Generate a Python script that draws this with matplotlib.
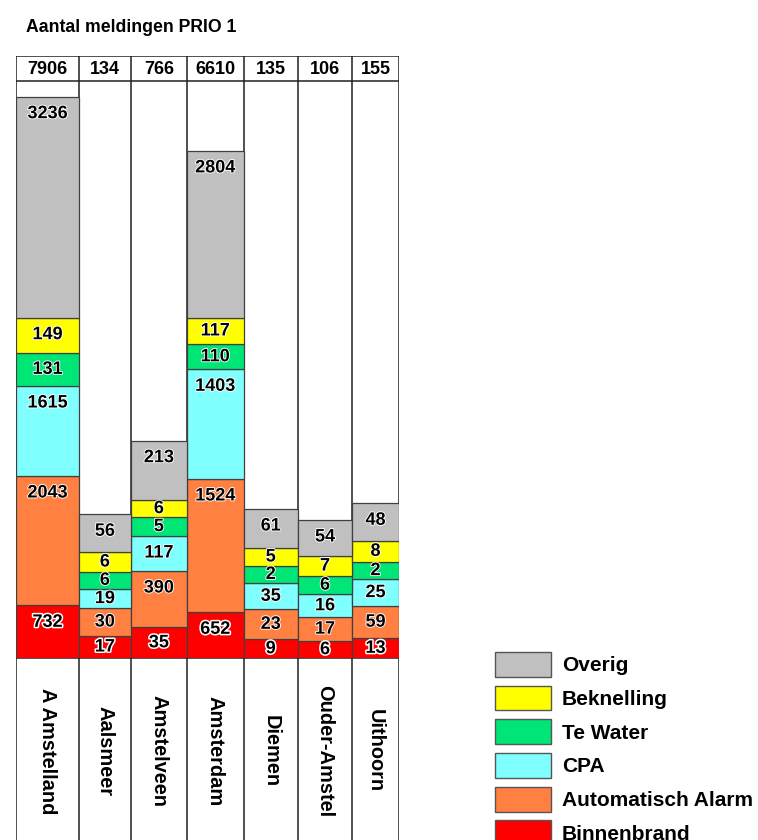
import numpy as np
import matplotlib
matplotlib.use("Agg")
import matplotlib.pyplot as plt
import matplotlib.patheffects as pe
from matplotlib.patches import Patch

plt.rcParams['font.family'] = ['Liberation Sans', 'DejaVu Sans']

# data
regions = ["A Amstelland", "Aalsmeer", "Amstelveen", "Amsterdam",
           "Diemen", "Ouder-Amstel", "Uithoorn"]
series = ["Binnenbrand", "Automatisch Alarm", "CPA", "Te Water", "Beknelling", "Overig"]
colors = ["#FF0000", "#FF8040", "#80FFFF", "#00E676", "#FFFF00", "#C0C0C0"]

binnenbrand = [732, 17, 35, 652, 9, 6, 13]
auto_alarm = [2043, 30, 390, 1524, 23, 17, 59]
cpa = [1615, 19, 117, 1403, 35, 16, 25]
te_water = [131, 6, 5, 110, 2, 6, 2]
beknelling = [149, 6, 6, 117, 5, 7, 8]
overig = [3236, 56, 213, 2804, 61, 54, 48]

# drawn segment heights (the chart is not to scale)
h_binnenbrand = [53, 22.6, 31, 46, 19, 17.3, 20]
h_auto_alarm = [129.3, 27.4, 56.3, 133.3, 30, 23.7, 32.3]
h_cpa = [90, 19.3, 35, 109.7, 26, 23, 26.7]
h_te_water = [33.3, 17.3, 18.7, 25, 17.7, 18.3, 17.3]
h_beknelling = [35, 19.4, 17.3, 26.7, 17.3, 20, 21.3]
h_overig = [221, 38, 59.3, 166.7, 39.3, 36, 37.4]

values = np.array([binnenbrand, auto_alarm, cpa, te_water, beknelling, overig])
heights = np.array([h_binnenbrand, h_auto_alarm, h_cpa, h_te_water, h_beknelling, h_overig])
totals = values.sum(axis=0)

# layout (pixels)
W, H = 758, 840
col_w = np.array([62.4, 52.3, 55.7, 57.0, 54.0, 54.6, 46.4])
left_px = 16.3
top_px, head_px, base_px, end_px = 56, 81, 658.3, 843
edges = np.concatenate([[0], np.cumsum(col_w)])
centers = edges[:-1] + col_w / 2
tot_w = edges[-1]

fig = plt.figure(figsize=(W / 100, H / 100), dpi=100)

# table frame: header, columns, label area
fr = fig.add_axes([left_px / W, (H - end_px) / H, tot_w / W, (end_px - top_px) / H])
fr.set_xlim(0, tot_w)
fr.set_ylim(end_px, top_px)
fr.axis("off")
fr.vlines(edges, top_px - 1, end_px, color="#202020", lw=1.1)
fr.hlines([top_px, head_px, base_px], 0, tot_w, color="#202020", lw=1.1)
for x, t in zip(centers, totals):
    fr.text(x, (top_px + head_px) / 2 + 1, str(t), ha="center", va="center",
            fontsize=13, fontweight="bold")
for x, name in zip(centers, regions):
    fr.text(x, 751, name, ha="center", va="center", rotation=-90,
            fontsize=14.4, fontweight="bold")

# stacked bars
ax = fig.add_axes([left_px / W, (H - base_px) / H, tot_w / W, (base_px - head_px) / H])
ax.set_xlim(0, tot_w)
ax.set_ylim(0, base_px - head_px)
ax.axis("off")
ax.patch.set_alpha(0)

bottom = np.zeros(len(regions))
for i, (name, c) in enumerate(zip(series, colors)):
    h = heights[i]
    ax.bar(edges[:-1], h, width=col_w, bottom=bottom, align="edge", color=c,
           edgecolor="#404040", linewidth=0.9)
    top = bottom + h
    ypos = np.maximum(top - 17, bottom + h / 2)
    halo = 2.2 if name == "Binnenbrand" else 1.3
    for x, y, v in zip(centers, ypos, values[i]):
        ax.text(x, y, str(v), ha="center", va="center", fontsize=13,
                fontweight="bold",
                path_effects=[pe.withStroke(linewidth=halo, foreground="white")])
    bottom = top

fig.text(26 / W, 1 - 32.3 / H, "Aantal meldingen PRIO 1", ha="left",
         va="baseline", fontsize=12.7, fontweight="bold")

handles = [Patch(facecolor=c, edgecolor="#555555", linewidth=1)
           for c in colors[::-1]]
fig.legend(handles, series[::-1], loc="upper left",
           bbox_to_anchor=(495 / W, 1 - 652 / H), frameon=False,
           prop={"size": 15, "weight": "bold"}, handlelength=2.69,
           handleheight=1.45, labelspacing=0.43, handletextpad=0.53,
           borderpad=0, borderaxespad=0)

fig.savefig("out.png", dpi=100)
